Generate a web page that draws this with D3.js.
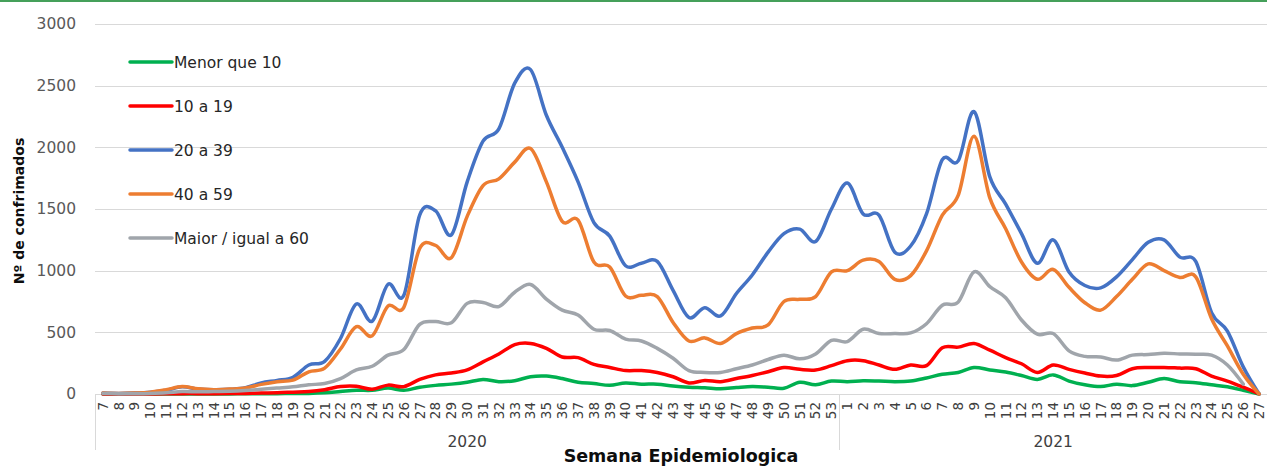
<!DOCTYPE html>
<html>
<head>
<meta charset="utf-8">
<script src="https://cdn.jsdelivr.net/npm/d3@7"></script>
<style>
  html, body { margin: 0; padding: 0; background: #fff; }
  svg { display: block; font-family: "DejaVu Sans", sans-serif; }
</style>
</head>
<body>
<svg id="chart" width="1267" height="467"></svg>
<script>
// ---- data ----
const years = ["2020", "2021"];
const weeks2020 = [7,8,9,10,11,12,13,14,15,16,17,18,19,20,21,22,23,24,25,26,27,28,29,30,31,32,33,34,35,36,37,38,39,40,41,42,43,44,45,46,47,48,49,50,51,52,53];
const weeks2021 = [1,2,3,4,5,6,7,8,9,10,11,12,13,14,15,16,17,18,19,20,21,22,23,24,25,26,27];
const seriesNames = ["Menor que 10", "10 a 19", "20 a 39", "40 a 59", "Maior / igual a 60"];
const seriesColors = ["#00b050", "#ff0000", "#4472c4", "#ed7d31", "#a0a5ab"];
const yTicks = [0, 500, 1000, 1500, 2000, 2500, 3000];

const menor10 = [0,0,0,0,1,1,1,1,1,2,2,3,4,
  5,10,20,30,30,48,30,55,70,80,95,118,100,108,140,145,125,
  95,85,70,90,80,80,65,55,50,42,52,60,55,47,95,75,105,
  100,108,105,100,105,130,160,175,215,195,178,150,118,155,105,75,60,80,68,95,125,100,92,75,58,30,0];
const de10a19 = [0,0,0,1,2,3,3,3,4,5,8,10,15,
  20,35,60,62,38,72,60,118,155,170,195,260,325,400,410,370,300,
  295,240,215,190,190,175,140,90,110,100,125,150,180,215,200,195,230,
  270,270,235,200,235,230,375,380,410,355,295,245,175,235,200,170,145,150,205,215,215,210,205,145,105,55,0];
const de20a39 = [8,5,8,15,30,58,40,35,38,50,90,110,135,
  235,265,450,730,590,890,800,1450,1485,1290,1720,2050,2150,2520,2630,2260,2000,
  1720,1390,1280,1040,1060,1075,840,620,700,633,815,965,1150,1300,1337,1236,1500,
  1710,1460,1450,1150,1200,1460,1900,1890,2290,1760,1540,1300,1060,1250,990,880,860,950,1090,1230,1250,1110,1075,660,510,220,0];
const de40a59 = [8,5,8,15,35,60,42,35,40,48,78,100,112,
  180,210,365,546,471,714,703,1180,1205,1105,1440,1690,1745,1880,1990,1720,1400,
  1410,1070,1030,795,800,790,580,430,455,410,490,535,560,750,768,790,990,
  1000,1085,1075,930,960,1160,1450,1610,2090,1590,1340,1070,930,1010,865,740,680,790,930,1055,1000,945,950,610,390,160,0];
const maior60 = [5,3,3,5,10,20,18,20,22,28,38,48,58,
  75,85,125,195,225,315,360,565,587,578,735,742,709,825,888,770,680,
  640,525,515,445,430,370,290,190,175,175,205,235,280,315,285,325,435,
  425,525,490,490,495,570,720,745,990,870,780,600,485,490,350,305,300,275,315,320,330,325,322,315,235,80,null];

// ---- build categories ----
const cats = [];
weeks2020.forEach(w => cats.push({year: years[0], week: w, key: years[0] + "-" + w}));
weeks2021.forEach(w => cats.push({year: years[1], week: w, key: years[1] + "-" + w}));
const allSeries = [menor10, de10a19, de20a39, de40a59, maior60];

// ---- layout ----
const svg = d3.select("#chart");
const W = 1267, H = 467;
const pL = 95, pR = 1267, pT = 24, pB = 394;

const x = d3.scaleBand().domain(cats.map(c => c.key)).range([pL, pR]).paddingInner(0).paddingOuter(0);
const y = d3.scaleLinear().domain([0, 3000]).range([pB, pT]);
const cx = k => x(k) + x.bandwidth() / 2;

// top green border
svg.append("rect").attr("x", 0).attr("y", 0).attr("width", W).attr("height", 2).attr("fill", "#45a05a");

// gridlines
const yAxis = d3.axisLeft(y).tickValues(yTicks).tickSize(-(pR - pL)).tickPadding(19).tickFormat(d3.format("d"));
const gy = svg.append("g").attr("transform", `translate(${pL},0)`).call(yAxis);
gy.select(".domain").remove();
gy.selectAll(".tick line").attr("stroke", "#d9d9d9").attr("stroke-width", 1).attr("shape-rendering", "crispEdges");
gy.selectAll(".tick text").attr("fill", "#595959").attr("font-size", "15.5px").attr("font-family", "DejaVu Sans, sans-serif");

// x axis (week labels)
const xAxis = d3.axisBottom(x).tickSize(0).tickFormat(k => k.split("-")[1]);
const gx = svg.append("g").attr("transform", `translate(0,${pB})`).call(xAxis);
gx.select(".domain").attr("stroke", "#d9d9d9").attr("shape-rendering", "crispEdges");
gx.selectAll(".tick text")
  .attr("transform", "rotate(-90)")
  .attr("text-anchor", "end")
  .attr("x", -8).attr("y", 0).attr("dy", "0.36em")
  .attr("fill", "#404040").attr("font-size", "13.5px").attr("font-family", "DejaVu Sans, sans-serif");

// group separators and year labels
const groupBounds = years.map(yr => {
  const ks = cats.filter(c => c.year === yr).map(c => c.key);
  return {year: yr, x0: x(ks[0]), x1: x(ks[ks.length - 1]) + x.bandwidth()};
});
const seps = [groupBounds[0].x0, groupBounds[0].x1, groupBounds[1].x1];
svg.selectAll(".sep").data(seps).enter().append("line")
  .attr("x1", d => Math.round(d) + 0.5).attr("x2", d => Math.round(d) + 0.5)
  .attr("y1", pB).attr("y2", 450)
  .attr("stroke", "#d9d9d9").attr("stroke-width", 1);
svg.selectAll(".yearlab").data(groupBounds).enter().append("text")
  .attr("x", d => (d.x0 + d.x1) / 2).attr("y", 447)
  .attr("text-anchor", "middle")
  .attr("fill", "#404040").attr("font-size", "15.5px")
  .text(d => d.year);

// axis titles
svg.append("text").attr("x", (pL + pR) / 2).attr("y", 462)
  .attr("text-anchor", "middle").attr("font-weight", "bold").attr("font-size", "17.5px").attr("fill", "#0d0d0d")
  .text("Semana Epidemiologica");
svg.append("text").attr("transform", `translate(24,${211}) rotate(-90)`)
  .attr("text-anchor", "middle").attr("font-weight", "bold").attr("font-size", "14px").attr("fill", "#0d0d0d")
  .text("Nº de confrimados");

// lines
const line = d3.line()
  .defined(d => d.v !== null && d.v !== undefined)
  .x(d => cx(d.key)).y(d => y(d.v))
  .curve(d3.curveCardinal.tension(0));
allSeries.forEach((vals, i) => {
  const pts = cats.map((c, j) => ({key: c.key, v: vals[j]}));
  svg.append("path").datum(pts)
    .attr("fill", "none").attr("stroke", seriesColors[i]).attr("stroke-width", 3.5)
    .attr("stroke-linejoin", "round").attr("stroke-linecap", "round")
    .attr("d", line);
});

// legend
const lg = svg.append("g");
seriesNames.forEach((name, i) => {
  const ly = 62 + i * 44;
  lg.append("line").attr("x1", 130).attr("x2", 172).attr("y1", ly).attr("y2", ly)
    .attr("stroke", seriesColors[i]).attr("stroke-width", 3.5).attr("stroke-linecap", "round");
  lg.append("text").attr("x", 174).attr("y", ly).attr("dy", "0.36em")
    .attr("fill", "#262626").attr("font-size", "15.5px").text(name);
});
</script>
</body>
</html>
